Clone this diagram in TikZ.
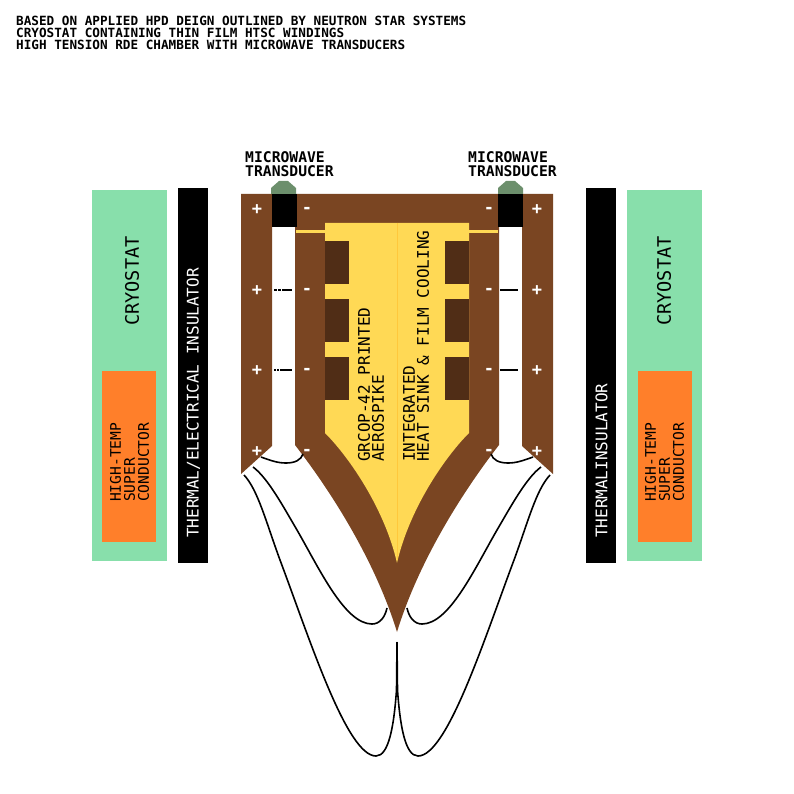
\documentclass[tikz,border=0pt]{standalone}
\usepackage{fontspec}
\usepackage{xcolor}
\usetikzlibrary{positioning}
\newfontfamily\pixelfont{DejaVu Sans Mono}
\definecolor{cryogreen}{HTML}{88DFAB}
\definecolor{htscorange}{HTML}{FF7F2A}
\definecolor{chamberbrown}{HTML}{7A4522}
\definecolor{coilbrown}{HTML}{502D16}
\definecolor{spikeyellow}{HTML}{FFD955}
\definecolor{spikeline}{HTML}{FFC83C}
\definecolor{transgreen}{HTML}{6C8F6C}

\begin{document}
\begin{tikzpicture}[
        x=1pt, y=-1pt,
        block/.style={rectangle, inner sep=0pt, outer sep=0pt},
        cryobox/.style={block, fill=cryogreen, minimum width=75pt, minimum height=371pt},
        htscbox/.style={block, fill=htscorange, minimum width=54pt, minimum height=171pt},
        insulbox/.style={block, fill=black, minimum width=30pt, minimum height=375pt},
        xducerbox/.style={block, fill=black, minimum width=25pt, minimum height=33pt},
        coilbox/.style={block, fill=coilbrown, minimum width=24pt, minimum height=43pt},
        sidetext/.style={inner sep=0pt, rotate=90, text=#1, font=\pixelfont\fontsize{16}{14}\selectfont, align=left},
        cryotext/.style={inner sep=0pt, rotate=90, font=\pixelfont\fontsize{18.6}{18}\selectfont},
        smalltext/.style={inner sep=0pt, rotate=90, anchor=west, font=\pixelfont\fontsize{14.6}{14}\selectfont, align=left},
        headtext/.style={inner sep=0pt, anchor=north west, font=\pixelfont\bfseries\fontsize{14.7}{14}\selectfont, align=left},
        pole/.style={inner sep=0pt, text=white, font=\pixelfont\bfseries\fontsize{17}{17}\selectfont},
        wire/.style={black, line width=1.6pt}
    ]
    \useasboundingbox (0,0) rectangle (794,794);

    % The Title Lines
    \node (title) [inner sep=0pt, anchor=north west, font=\pixelfont\bfseries\fontsize{12.67}{12}\selectfont, align=left] at (16,16) {BASED ON APPLIED HPD DEIGN OUTLINED BY NEUTRON STAR SYSTEMS\\CRYOSTAT CONTAINING THIN FILM HTSC WINDINGS\\HIGH TENSION RDE CHAMBER WITH MICROWAVE TRANSDUCERS};

    % The Cryostats and Insulators
    \node (cryoL) [cryobox] at (129.5,375.5) {};
    \node (cryoR) [cryobox] at (664.5,375.5) {};
    \node (insulL) [insulbox, right=11pt of cryoL] {};
    \node (insulR) [insulbox, left=11pt of cryoR] {};
    \node (htscL) [htscbox] at (129,456.5) {};
    \node (htscR) [htscbox] at (665,456.5) {};

    \node (cryotextL) [cryotext] at (132,281) {CRYOSTAT};
    \node (cryotextR) [cryotext] at (664,281) {CRYOSTAT};
    \node (insultextL) [sidetext=white, anchor=west] at (193.5,538) {THERMAL/ELECTRICAL INSULATOR};
    \node (insultextR) [sidetext=white, anchor=west] at (601.5,538) {THERMALINSULATOR};
    \node (htsctextL) [smalltext] at (129.5,502) {HIGH-TEMP\\SUPER\\CONDUCTOR};
    \node (htsctextR) [smalltext] at (664.5,502) {HIGH-TEMP\\SUPER\\CONDUCTOR};

    % The Chamber Walls
    \fill [chamberbrown] (241,194) -- (553,194) -- (553,474) -- (522,446) -- (522,227) -- (499,227) -- (499,445)
        .. controls (464,490) and (419,560) .. (397,632)
        .. controls (375,560) and (330,490) .. (295,445)
        -- (295,227) -- (272,227) -- (272,446) -- (241,474) -- cycle;

    % The Aerospike
    \fill [spikeyellow] (325,223) -- (469,223) -- (469,433)
        .. controls (444,458) and (409,510) .. (397,563)
        .. controls (385,510) and (350,458) .. (325,433) -- cycle;
    \fill [spikeyellow] (296,230) rectangle (325,233);
    \fill [spikeyellow] (469,230) rectangle (498,233);
    \draw [spikeline, line width=0.6pt] (397,223) -- (397,560);

    % The Coil Blocks
    \node (coilL1) [coilbox] at (337,262.5) {};
    \node (coilL2) [coilbox, below=15pt of coilL1] {};
    \node (coilL3) [coilbox, below=15pt of coilL2] {};
    \node (coilR1) [coilbox] at (457,262.5) {};
    \node (coilR2) [coilbox, below=15pt of coilR1] {};
    \node (coilR3) [coilbox, below=15pt of coilR2] {};

    % The Transducers
    \fill [transgreen] (271,194) -- (271,188) -- (279,181) -- (288,181) -- (296,188) -- (296,194) -- cycle;
    \fill [transgreen] (498,194) -- (498,188) -- (506,181) -- (515,181) -- (523,188) -- (523,194) -- cycle;
    \node (xducerL) [xducerbox] at (284,210.5) {};
    \node (xducerR) [xducerbox] at (510.5,210.5) {};
    \node (xdtextL) [headtext] at (245,151.5) {MICROWAVE\\TRANSDUCER};
    \node (xdtextR) [headtext] at (468,151.5) {MICROWAVE\\TRANSDUCER};

    % The Spike Labels
    \node (spiketextA) [sidetext=black, anchor=west] at (371,462) {GRCOP-42 PRINTED\\AEROSPIKE};
    \node (spiketextB) [sidetext=black, anchor=west] at (416,462) {INTEGRATED\\HEAT SINK \& FILM COOLING};

    % The Pole Signs
    \node (plusL1) [pole] at (257,210) {+};
    \node (plusL2) [pole] at (257,291) {+};
    \node (plusL3) [pole] at (257,371) {+};
    \node (plusL4) [pole] at (257,452) {+};
    \node (minusL1) [pole] at (307,210) {-};
    \node (minusL2) [pole] at (307,291) {-};
    \node (minusL3) [pole] at (307,371.5) {-};
    \node (minusL4) [pole] at (307,452) {-};
    \node (minusR1) [pole] at (489,210) {-};
    \node (minusR2) [pole] at (489,291) {-};
    \node (minusR3) [pole] at (489,371.5) {-};
    \node (minusR4) [pole] at (489,452) {-};
    \node (plusR1) [pole] at (537,210) {+};
    \node (plusR2) [pole] at (537,291) {+};
    \node (plusR3) [pole] at (537,371) {+};
    \node (plusR4) [pole] at (537,452) {+};

    % The Wire Ends
    \coordinate (gapL2a) at (274,290);
    \coordinate (gapL2b) at (292,290);
    \coordinate (gapL3a) at (274,370);
    \coordinate (gapL3b) at (292,370);
    \coordinate (gapR2a) at (500,290);
    \coordinate (gapR2b) at (518,290);
    \coordinate (gapR3a) at (500,370);
    \coordinate (gapR3b) at (518,370);
    \coordinate (arcL) at (261,457);
    \coordinate (arcLend) at (303,454);
    \coordinate (arcR) at (533,457);
    \coordinate (arcRend) at (491,454);
    \coordinate (midL) at (253,467);
    \coordinate (midLend) at (387,608);
    \coordinate (midR) at (541,467);
    \coordinate (midRend) at (407,608);
    \coordinate (outL) at (244,475);
    \coordinate (outR) at (550,475);
    \coordinate (tail) at (397,642);

    % The Wires
    \draw [wire, dash pattern=on 3pt off 1pt on 3pt off 1pt on 11pt off 0pt] (gapL2a) -- (gapL2b);
    \draw [wire, dash pattern=on 2pt off 1pt on 2pt off 1pt on 12pt off 0pt] (gapL3a) -- (gapL3b);
    \draw [wire] (gapR2a) -- (gapR2b);
    \draw [wire] (gapR3a) -- (gapR3b);

    \draw [wire] (arcL) .. controls (272,461) and (278,463) .. (286,463) .. controls (295,463) and (301,460) .. (arcLend);
    \draw [wire] (arcR) .. controls (522,461) and (516,463) .. (508,463) .. controls (499,463) and (493,460) .. (arcRend);

    \draw [wire] (midL) .. controls (268,478) and (284,508) .. (297,530) .. controls (320,570) and (345,624) .. (372,624) .. controls (380,624) and (385,617) .. (midLend);
    \draw [wire] (midR) .. controls (526,478) and (510,508) .. (497,530) .. controls (474,570) and (449,624) .. (422,624) .. controls (414,624) and (409,617) .. (midRend);

    \draw [wire] (outL) .. controls (258,490) and (266,522) .. (280,560) .. controls (310,640) and (347,756) .. (376,756) .. controls (389,756) and (394,725) .. (396.5,690) -- (tail);
    \draw [wire] (outR) .. controls (536,490) and (528,522) .. (514,560) .. controls (484,640) and (447,756) .. (418,756) .. controls (405,756) and (400,725) .. (397.5,690) -- (tail);

    \end{tikzpicture}
\end{document}
